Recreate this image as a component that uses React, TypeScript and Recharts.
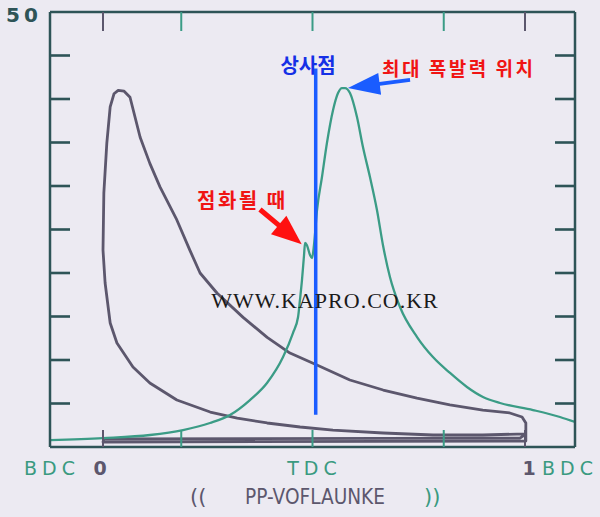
import React from 'react';
import { ComposedChart, Line, XAxis, YAxis, ReferenceLine, ReferenceDot } from 'recharts';

// Pressure vs crank angle (teal)
const crankAngle = [-180, -143.7, -111.4, -88.8, -70.3, -56.6, -42.9, -31.2, -20.2, -13.4, -9.9, -8.6, -7.2, -5.8, -5.1, -3.8, -1.7, -0.3, 1.0, 3.1, 6.5, 9.9, 14.1, 17.5, 20.2, 22.3, 25.7, 30.5, 34.6, 39.4, 44.2, 48.3, 53.1, 60.0, 71.7, 82.6, 94.3, 105.9, 116.9, 128.6, 151.2, 169.7, 180];
const crankPressure = [0.8, 1.03, 1.38, 1.95, 2.76, 3.68, 5.4, 7.36, 10.34, 13.1, 14.94, 16.9, 19.2, 22.07, 23.45, 23.2, 22.07, 21.72, 23.2, 27.24, 31.03, 34.94, 38.74, 40.69, 41.26, 41.26, 40.69, 37.93, 34.48, 31.03, 27.24, 23.22, 19.54, 16.09, 12.64, 10.34, 8.51, 6.9, 5.75, 5.06, 4.25, 3.45, 2.87];

// Pressure vs volume loop (gray)
const pvVolume = [1.002, 0.981, 0.9, 0.782, 0.664, 0.545, 0.467, 0.389, 0.318, 0.254, 0.175, 0.111, 0.071, 0.033, 0.017, 0.005, 0.0, 0.002, 0.009, 0.017, 0.026, 0.036, 0.05, 0.064, 0.088, 0.111, 0.135, 0.175, 0.206, 0.23, 0.27, 0.332, 0.389, 0.443, 0.507, 0.585, 0.664, 0.744, 0.822, 0.9, 0.964, 0.993, 1.002, 1.002, 1.002, 0.0, 0.002, 0.988, 1.002];
const pvPressure = [1.49, 1.49, 1.38, 1.38, 1.61, 1.95, 2.3, 2.76, 3.33, 4.02, 5.4, 7.36, 9.2, 11.95, 14.25, 18.85, 22.64, 29.2, 34.9, 39.1, 40.6, 41.0, 40.9, 40.2, 35.6, 32.6, 29.9, 26.1, 22.6, 20.0, 17.7, 14.9, 12.6, 10.8, 9.43, 7.7, 6.55, 5.63, 4.83, 4.25, 3.91, 3.45, 2.76, 1.95, 0.69, 0.57, 0.92, 1.03, 1.49];

const crankTicks = [-180, -90, 0, 90, 180];
const crankTickLabels: Record<number, string> = { [-180]: 'BDC', 0: 'TDC', 180: 'BDC' };
const crankInnerTicks = [-90, 0, 90];
const volTicks = [0, 1];
const volTickLabels: Record<number, string> = { 0: '0', 1: '1' };
const pressureTicks = [0, 5, 10, 15, 20, 25, 30, 35, 40, 45, 50];
const pressureTopLabel = 50;

const crankDomain: [number, number] = [-180, 180];
const volDomain: [number, number] = [-0.1256, 1.1185];

const tdcMarker = { angle: 2.2, from: 3.7, to: 43.5 };
const blueArrow = { from: { x: 66.9, y: 42.2 }, to: { x: 24.3, y: 41.26 } };
const redArrow = { from: { x: -36.0, y: 27.3 }, to: { x: -7.4, y: 23.3 } };

const notes = [
  { x: -3.1, y: 43.0, text: '상사점', color: '#1530e6', anchor: 'middle', size: 20, spacing: 0 },
  { x: 47.7, y: 42.64, text: '최대 폭발력 위치', color: '#f01414', anchor: 'start', size: 19, spacing: 2.5 },
  { x: -79.2, y: 27.47, text: '점화될 때', color: '#f01414', anchor: 'start', size: 20, spacing: 2.5 },
];
const watermark = { x: 8.6, y: 15.98, text: 'WWW.KAPRO.CO.KR' };

const crankData = crankAngle.map((x, i) => ({ x, p: crankPressure[i] }));
const pvData = pvVolume.map((x, i) => ({ x, p: pvPressure[i] }));

// layout: plot area spans x 50..575, y 12..447; each axis occupies 1px
const W = 600;
const H = 517;
const M = { top: 10, left: 49, right: 24, bottom: 68 };
const PLOT_TOP = 12;
const PLOT_BOTTOM = 447;
const PLOT_LEFT = 50;
const PLOT_RIGHT = 575;
const LABEL_Y = 475;

const FRAME = '#2e5457';
const TEAL = '#3b9c86';
const GRAY = '#5c576d';
const TEAL_TEXT = '#3a9a80';

const makeArrow = (color: string, shaft: number, headLen: number, headW: number) => (props: any) => {
  const { x1, y1, x2, y2 } = props;
  if ([x1, y1, x2, y2].some((v) => typeof v !== 'number' || isNaN(v))) return <g />;
  const dx = x2 - x1;
  const dy = y2 - y1;
  const len = Math.hypot(dx, dy) || 1;
  const ux = dx / len;
  const uy = dy / len;
  const bx = x2 - ux * headLen;
  const by = y2 - uy * headLen;
  const px = -uy;
  const py = ux;
  return (
    <g>
      <line x1={x1} y1={y1} x2={bx + ux * 2} y2={by + uy * 2} stroke={color} strokeWidth={shaft} />
      <polygon
        points={`${x2},${y2} ${bx + (px * headW) / 2},${by + (py * headW) / 2} ${bx - (px * headW) / 2},${by - (py * headW) / 2}`}
        fill={color}
      />
    </g>
  );
};

const CrankBottomTick = (props: any) => {
  const { x, payload } = props;
  const v = payload.value;
  const label = crankTickLabels[v];
  const dx = v === 180 ? -5 : 2;
  return (
    <g>
      {crankInnerTicks.includes(v) && (
        <line x1={x} x2={x} y1={PLOT_BOTTOM} y2={PLOT_BOTTOM - 17} stroke={TEAL} strokeWidth={2} />
      )}
      {label && (
        <text x={x + dx} y={LABEL_Y} textAnchor="middle" fill={TEAL_TEXT} fontFamily="DejaVu Sans" fontSize={19} letterSpacing={5}>
          {label}
        </text>
      )}
    </g>
  );
};

const CrankTopTick = (props: any) => {
  const { x, payload } = props;
  if (!crankInnerTicks.includes(payload.value)) return <g />;
  return <line x1={x} x2={x} y1={PLOT_TOP} y2={PLOT_TOP + 19} stroke={TEAL} strokeWidth={2} />;
};

const VolBottomTick = (props: any) => {
  const { x, payload } = props;
  const label = volTickLabels[payload.value];
  const dx = payload.value === 0 ? -3 : 4;
  return (
    <g>
      <line x1={x} x2={x} y1={PLOT_BOTTOM} y2={PLOT_BOTTOM - 17} stroke={GRAY} strokeWidth={2} />
      {label !== undefined && (
        <text x={x + dx} y={LABEL_Y} textAnchor="middle" fill={GRAY} fontFamily="DejaVu Sans" fontWeight="bold" fontSize={19}>
          {label}
        </text>
      )}
    </g>
  );
};

const VolTopTick = (props: any) => {
  const { x } = props;
  return <line x1={x} x2={x} y1={PLOT_TOP} y2={PLOT_TOP + 19} stroke={GRAY} strokeWidth={2} />;
};

const LeftTick = (props: any) => {
  const { y, payload } = props;
  const v = payload.value;
  if (v === pressureTopLabel) {
    return (
      <text x={24} y={22} textAnchor="middle" fill={FRAME} fontFamily="DejaVu Sans" fontWeight="bold" fontSize={20} letterSpacing={4}>
        {String(pressureTopLabel)}
      </text>
    );
  }
  if (v === 0) return <g />;
  return <line x1={PLOT_LEFT} x2={PLOT_LEFT + 20} y1={y} y2={y} stroke={FRAME} strokeWidth={2.6} />;
};

const RightTick = (props: any) => {
  const { y, payload } = props;
  const v = payload.value;
  if (v === 0 || v === 50) return <g />;
  return <line x1={PLOT_RIGHT} x2={PLOT_RIGHT - 20} y1={y} y2={y} stroke={FRAME} strokeWidth={2.6} />;
};

const AxisTitle = () => (
  <g fontFamily="DejaVu Sans" fontSize={21}>
    <text x={190} y={504} fill={GRAY}>((</text>
    <text x={245} y={504} fill={GRAY} textLength={140} lengthAdjust="spacingAndGlyphs">PP-VOFLAUNKE</text>
    <text x={424} y={504} fill={TEAL_TEXT}>))</text>
  </g>
);

const frameLine = { stroke: FRAME, strokeWidth: 2.5 };

export default function App() {
  return (
    <div style={{ position: 'absolute', left: 0, top: 0, width: W, height: H, background: '#eceaf2' }}>
      <ComposedChart width={W} height={H} margin={M}>
        <XAxis
          xAxisId="crank"
          type="number"
          dataKey="x"
          domain={crankDomain}
          allowDataOverflow
          ticks={crankTicks}
          orientation="bottom"
          height={1}
          tickSize={0}
          tickLine={false}
          axisLine={frameLine}
          tick={<CrankBottomTick />}
          label={{ content: <AxisTitle /> }}
        />
        <XAxis
          xAxisId="vol"
          type="number"
          dataKey="x"
          domain={volDomain}
          allowDataOverflow
          ticks={volTicks}
          orientation="bottom"
          height={1}
          tickSize={0}
          tickLine={false}
          axisLine={false}
          tick={<VolBottomTick />}
        />
        <XAxis
          xAxisId="crankTop"
          type="number"
          dataKey="x"
          domain={crankDomain}
          allowDataOverflow
          ticks={crankTicks}
          orientation="top"
          height={1}
          tickSize={0}
          tickLine={false}
          axisLine={frameLine}
          tick={<CrankTopTick />}
        />
        <XAxis
          xAxisId="volTop"
          type="number"
          dataKey="x"
          domain={volDomain}
          allowDataOverflow
          ticks={volTicks}
          orientation="top"
          height={1}
          tickSize={0}
          tickLine={false}
          axisLine={false}
          tick={<VolTopTick />}
        />
        <YAxis
          yAxisId="left"
          type="number"
          domain={[0, 50]}
          allowDataOverflow
          ticks={pressureTicks}
          orientation="left"
          width={1}
          tickSize={0}
          tickLine={false}
          axisLine={frameLine}
          tick={<LeftTick />}
        />
        <YAxis
          yAxisId="right"
          type="number"
          domain={[0, 50]}
          allowDataOverflow
          ticks={pressureTicks}
          orientation="right"
          width={1}
          tickSize={0}
          tickLine={false}
          axisLine={frameLine}
          tick={<RightTick />}
        />

        <Line
          data={pvData}
          xAxisId="vol"
          yAxisId="left"
          dataKey="p"
          type="linear"
          stroke={GRAY}
          strokeWidth={2.8}
          strokeLinejoin="round"
          dot={false}
          isAnimationActive={false}
        />
        <Line
          data={crankData}
          xAxisId="crank"
          yAxisId="left"
          dataKey="p"
          type="monotone"
          stroke={TEAL}
          strokeWidth={2.3}
          dot={false}
          isAnimationActive={false}
        />

        <ReferenceLine
          xAxisId="crank"
          yAxisId="left"
          segment={[{ x: tdcMarker.angle, y: tdcMarker.from }, { x: tdcMarker.angle, y: tdcMarker.to }]}
          stroke="#1a5cff"
          strokeWidth={3.5}
        />
        <ReferenceLine
          xAxisId="crank"
          yAxisId="left"
          segment={[blueArrow.from, blueArrow.to]}
          shape={makeArrow('#1a5cff', 4, 32, 22)}
        />
        <ReferenceLine
          xAxisId="crank"
          yAxisId="left"
          segment={[redArrow.from, redArrow.to]}
          shape={makeArrow('#ff1010', 5, 30, 24)}
        />

        {notes.map((n) => (
          <ReferenceDot
            key={n.text}
            xAxisId="crank"
            yAxisId="left"
            x={n.x}
            y={n.y}
            shape={(p: any) => (
              <text
                x={p.cx}
                y={p.cy}
                textAnchor={n.anchor as any}
                fill={n.color}
                fontFamily="Noto Sans CJK KR"
                fontWeight="bold"
                fontSize={n.size}
                letterSpacing={n.spacing}
              >
                {n.text}
              </text>
            )}
          />
        ))}
        <ReferenceDot
          xAxisId="crank"
          yAxisId="left"
          x={watermark.x}
          y={watermark.y}
          shape={(p: any) => (
            <text x={p.cx} y={p.cy} textAnchor="middle" fill="#1a1a1a" fontFamily="Liberation Serif" fontSize={22} letterSpacing={1}>
              {watermark.text}
            </text>
          )}
        />
      </ComposedChart>
    </div>
  );
}
